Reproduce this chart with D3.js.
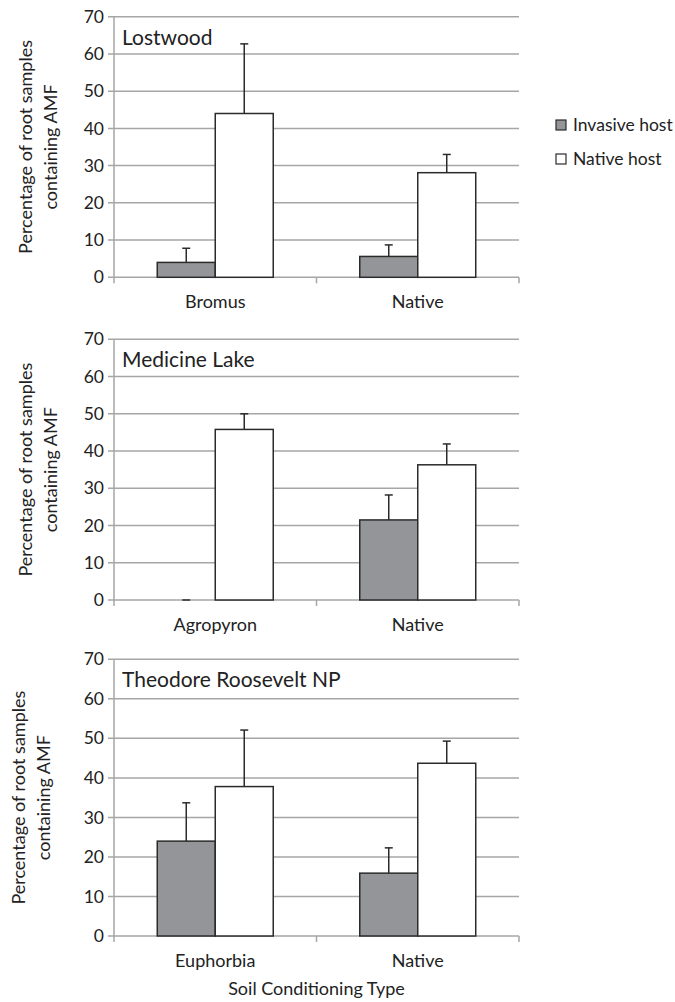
<!DOCTYPE html>
<html>
<head>
<meta charset="utf-8">
<script src="https://cdn.jsdelivr.net/npm/d3@7"></script>
<style>
  body { margin: 0; background: #fff; }
  text { font-family: Lato, "Open Sans", sans-serif; fill: #222; }
</style>
</head>
<body>
<div id="chart"></div>
<script>
// data
const sites = ["Lostwood", "Medicine Lake", "Theodore Roosevelt NP"];
const categories = [["Bromus", "Native"], ["Agropyron", "Native"], ["Euphorbia", "Native"]];
const series = ["Invasive host", "Native host"];
const invasiveValues = [[4, 5.6], [0, 21.5], [24, 15.9]];
const invasiveErrors = [[3.8, 3.1], [0, 6.7], [9.7, 6.4]];
const nativeValues = [[44, 28.1], [45.8, 36.3], [37.8, 43.7]];
const nativeErrors = [[18.7, 4.9], [4.2, 5.6], [14.3, 5.6]];
const yTicks = [0, 10, 20, 30, 40, 50, 60, 70];

const width = 675, height = 1002;
const left = 114, right = 519;
// top / bottom pixel of each panel's plot area
const panelRows = [[16.7, 277.3], [339.3, 600], [659.3, 936]];
const colors = { "Invasive host": "#939598", "Native host": "#ffffff" };

const svg = d3.select("#chart").append("svg")
  .attr("width", width)
  .attr("height", height);

sites.forEach(function (site, p) {
  const top = panelRows[p][0], bottom = panelRows[p][1];
  const g = svg.append("g");

  const x = d3.scaleBand().domain(categories[p]).range([left, right]);
  const xs = d3.scaleBand().domain(series).range([0, x.bandwidth()]).paddingOuter(0.746);
  const y = d3.scaleLinear().domain([0, 70]).range([bottom, top]);

  // gridlines
  g.append("g").selectAll("line")
    .data(yTicks)
    .enter().append("line")
    .attr("x1", left - 6).attr("x2", right)
    .attr("y1", d => y(d)).attr("y2", d => y(d))
    .attr("stroke", "#a6a6a6").attr("stroke-width", 1.5);

  // y axis line
  g.append("line")
    .attr("x1", left).attr("x2", left)
    .attr("y1", top).attr("y2", bottom)
    .attr("stroke", "#a6a6a6").attr("stroke-width", 1.5);

  // x axis ticks at category boundaries
  const bounds = categories[p].map(c => x(c)).concat([right]);
  g.append("g").selectAll("line")
    .data(bounds)
    .enter().append("line")
    .attr("x1", d => d).attr("x2", d => d)
    .attr("y1", bottom).attr("y2", bottom + 6)
    .attr("stroke", "#a6a6a6").attr("stroke-width", 1.5);

  g.append("g").selectAll("text")
    .data(yTicks)
    .enter().append("text")
    .attr("x", left - 10)
    .attr("y", d => y(d))
    .attr("dy", "0.35em")
    .attr("text-anchor", "end")
    .style("font-size", "17.5px")
    .text(d => d);

  g.append("g").selectAll("text")
    .data(categories[p])
    .enter().append("text")
    .attr("x", d => x(d) + x.bandwidth() / 2)
    .attr("y", bottom + 31)
    .attr("text-anchor", "middle")
    .style("font-size", "18px")
    .text(d => d);

  // bars
  const rows = [];
  categories[p].forEach(function (c, i) {
    rows.push({ cat: c, s: "Invasive host", v: invasiveValues[p][i], e: invasiveErrors[p][i] });
    rows.push({ cat: c, s: "Native host", v: nativeValues[p][i], e: nativeErrors[p][i] });
  });

  const bars = g.append("g").selectAll("g")
    .data(rows)
    .enter().append("g");

  bars.filter(d => d.v > 0).append("rect")
    .attr("x", d => x(d.cat) + xs(d.s))
    .attr("y", d => y(d.v))
    .attr("width", xs.bandwidth())
    .attr("height", d => y(0) - y(d.v))
    .attr("fill", d => colors[d.s])
    .attr("stroke", "#2b2b2b").attr("stroke-width", 1.5);

  // error bars
  bars.append("line")
    .attr("x1", d => x(d.cat) + xs(d.s) + xs.bandwidth() / 2)
    .attr("x2", d => x(d.cat) + xs(d.s) + xs.bandwidth() / 2)
    .attr("y1", d => y(d.v))
    .attr("y2", d => y(d.v + d.e))
    .attr("stroke", "#2b2b2b").attr("stroke-width", 1.5);
  bars.append("line")
    .attr("x1", d => x(d.cat) + xs(d.s) + xs.bandwidth() / 2 - 4)
    .attr("x2", d => x(d.cat) + xs(d.s) + xs.bandwidth() / 2 + 4)
    .attr("y1", d => y(d.v + d.e))
    .attr("y2", d => y(d.v + d.e))
    .attr("stroke", "#2b2b2b").attr("stroke-width", 1.5);

  // site label
  g.append("text")
    .attr("x", left + 8)
    .attr("y", top + 28)
    .style("font-size", "21px")
    .text(site);

  // y title
  const cy = (top + bottom) / 2;
  const tx = p === 2 ? 19 : 26;
  const yt = g.append("text")
    .attr("transform", "translate(" + tx + "," + cy + ") rotate(-90)")
    .attr("text-anchor", "middle")
    .style("font-size", "18px");
  yt.append("tspan").attr("x", 0).attr("dy", "0.35em").text("Percentage of root samples");
  yt.append("tspan").attr("x", 0).attr("dy", "1.4em").text("containing AMF");
});

svg.append("text")
  .attr("x", (left + right) / 2)
  .attr("y", 995)
  .attr("text-anchor", "middle")
  .style("font-size", "18px")
  .text("Soil Conditioning Type");

// legend
const legend = svg.append("g").selectAll("g")
  .data(series)
  .enter().append("g")
  .attr("transform", (d, i) => "translate(556," + (120 + i * 34) + ")");
legend.append("rect")
  .attr("width", 10).attr("height", 10)
  .attr("fill", d => colors[d])
  .attr("stroke", "#2b2b2b").attr("stroke-width", 1.2);
legend.append("text")
  .attr("x", 17).attr("y", 5).attr("dy", "0.35em")
  .style("font-size", "17.5px")
  .text(d => d);
</script>
</body>
</html>
